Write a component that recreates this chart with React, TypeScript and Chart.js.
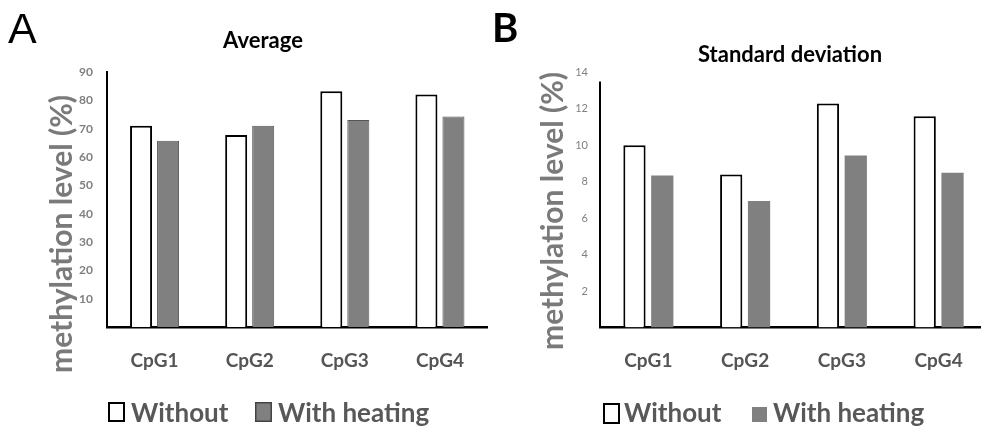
import React, { useEffect, useRef } from "react";
import { Chart, registerables } from "chart.js";

Chart.register(...registerables);

// ---- data ----
const categories = ["CpG1", "CpG2", "CpG3", "CpG4"];
const seriesNames = ["Without", "With heating"];
const avgWithout = [71.0, 67.8, 83.2, 82.1];
const avgWithHeating = [65.7, 71.0, 73.1, 74.3];
const sdWithout = [10.0, 8.4, 12.3, 11.6];
const sdWithHeating = [8.35, 6.95, 9.45, 8.5];
const avgAxis = { max: 90, step: 10 };
const sdAxis = { max: 14, step: 2 };

const FONT = "Lato, 'Open Sans', 'DejaVu Sans', sans-serif";

const decorPlugin = {
  id: "decor",
  afterDraw(chart: any, _args: any, o: any) {
    const { ctx, chartArea } = chart;
    ctx.save();
    // optional custom y axis line
    if (o.yLineFrom != null) {
      const ys = chart.scales.y;
      const yTop = ys.getPixelForValue(o.yLineFrom);
      ctx.strokeStyle = "#000";
      ctx.lineWidth = o.yLineWidth;
      ctx.beginPath();
      ctx.moveTo(chartArea.left, yTop);
      ctx.lineTo(chartArea.left, chartArea.bottom);
      ctx.stroke();
    }
    // panel letter
    ctx.fillStyle = "#000";
    ctx.textAlign = "left";
    ctx.textBaseline = "alphabetic";
    ctx.font = o.letterFont;
    ctx.fillText(o.letter, o.letterX, o.letterY);
    // title
    ctx.font = `bold 22px ${FONT}`;
    ctx.textAlign = "center";
    ctx.fillText(o.title, o.titleX, o.titleY);
    // y title
    ctx.save();
    ctx.translate(o.yTitleX, o.yTitleY);
    ctx.rotate(-Math.PI / 2);
    ctx.fillStyle = "#7a7a7a";
    ctx.font = `bold 30px ${FONT}`;
    ctx.textAlign = "center";
    ctx.textBaseline = "middle";
    ctx.fillText(o.yTitle, 0, 0);
    ctx.restore();
    // legend
    ctx.font = `bold 26px ${FONT}`;
    ctx.textAlign = "left";
    ctx.textBaseline = "alphabetic";
    o.legend.forEach((it: any, i: number) => {
      const ds = chart.data.datasets[i];
      ctx.fillStyle = ds.backgroundColor;
      ctx.fillRect(it.bx, it.by, it.bw, it.bh);
      if (it.bl > 0) {
        ctx.strokeStyle = it.bc;
        ctx.lineWidth = it.bl;
        ctx.strokeRect(it.bx + it.bl / 2, it.by + it.bl / 2, it.bw - it.bl, it.bh - it.bl);
      }
      ctx.fillStyle = "#585858";
      ctx.fillText(ds.label, it.tx, it.ty);
    });
    ctx.restore();
  },
};

function Panel(props: any) {
  const ref = useRef<HTMLCanvasElement>(null);
  useEffect(() => {
    const p = props;
    const chart = new Chart(ref.current as HTMLCanvasElement, {
      type: "bar",
      data: {
        labels: categories,
        datasets: [
          {
            label: seriesNames[0],
            data: p.without,
            backgroundColor: "#ffffff",
            borderColor: "#000000",
            borderWidth: 2,
            categoryPercentage: p.catPct,
            barPercentage: p.barPct,
          },
          {
            label: seriesNames[1],
            data: p.withHeating,
            backgroundColor: "#808080",
            borderColor: p.heatBorder,
            borderWidth: p.heatBorderWidth,
            categoryPercentage: p.catPct,
            barPercentage: p.barPct,
          },
        ],
      },
      options: {
        animation: false,
        responsive: false,
        maintainAspectRatio: false,
        devicePixelRatio: 1,
        layout: { padding: { top: p.padTop, right: p.padRight, left: 0, bottom: 0 } },
        plugins: {
          legend: { display: false },
          title: { display: false },
          tooltip: { enabled: false },
          decor: p.decor,
        } as any,
        scales: {
          x: {
            grid: { display: false, drawTicks: false },
            border: { color: "#000", width: 2.5 },
            ticks: {
              color: "#555555",
              font: { family: FONT, size: 19, weight: "bold" },
              padding: 22,
            },
            afterFit: (s: any) => {
              s.height = p.xHeight;
            },
          },
          y: {
            min: 0,
            max: p.axis.max,
            grid: { display: false, drawTicks: false },
            border: { display: p.showYBorder, color: "#000", width: 2 },
            ticks: {
              stepSize: p.axis.step,
              color: "#808080",
              font: p.tickFont,
              padding: p.tickPad,
              callback: (v: any) => (v === 0 ? "" : String(v)),
            },
            afterFit: (s: any) => {
              s.width = p.yWidth;
            },
          },
        },
      },
      plugins: [decorPlugin],
    });
    return () => chart.destroy();
  }, []);
  return (
    <canvas
      ref={ref}
      width={props.w}
      height={430}
      style={{ position: "absolute", left: props.left, top: 0, width: props.w, height: 430 }}
    />
  );
}

export default function App() {
  return (
    <div
      style={{
        position: "absolute",
        left: 0,
        top: 0,
        width: 981,
        height: 430,
        overflow: "hidden",
        background: "#fff",
      }}
    >
      <Panel
        left={0}
        w={490}
        without={avgWithout}
        withHeating={avgWithHeating}
        axis={avgAxis}
        catPct={0.568}
        barPct={0.815}
        heatBorder="#555555"
        heatBorderWidth={1}
        padTop={72}
        padRight={2.5}
        xHeight={103}
        yWidth={107}
        showYBorder={true}
        tickFont={{ family: FONT, size: 12, weight: "bold" }}
        tickPad={14}
        decor={{
          letter: "A",
          letterFont: "43px 'Liberation Sans', Arial, sans-serif",
          letterX: 8,
          letterY: 43,
          title: "Average",
          titleX: 263,
          titleY: 48,
          yTitle: "methylation level (%)",
          yTitleX: 62,
          yTitleY: 234,
          legend: [
            { bx: 108, by: 402, bw: 17, bh: 20, bl: 2, bc: "#000", tx: 131, ty: 422 },
            { bx: 255, by: 402, bw: 17, bh: 20, bl: 1.5, bc: "#444", tx: 278, ty: 422 },
          ],
        }}
      />
      <Panel
        left={490}
        w={500}
        without={sdWithout}
        withHeating={sdWithHeating}
        axis={sdAxis}
        catPct={0.575}
        barPct={0.8}
        heatBorder="#808080"
        heatBorderWidth={0}
        padTop={72.5}
        padRight={3}
        xHeight={102.5}
        yWidth={110}
        showYBorder={false}
        tickFont={{ family: FONT, size: 11 }}
        tickPad={12}
        decor={{
          yLineFrom: 13.5,
          yLineWidth: 2,
          letter: "B",
          letterFont: `bold 40px ${FONT}`,
          letterX: 2,
          letterY: 42,
          title: "Standard deviation",
          titleX: 300,
          titleY: 62,
          yTitle: "methylation level (%)",
          yTitleX: 63,
          yTitleY: 211,
          legend: [
            { bx: 113, by: 403, bw: 17, bh: 21, bl: 2, bc: "#000", tx: 134, ty: 422 },
            { bx: 262, by: 407, bw: 15, bh: 15, bl: 0, bc: "#808080", tx: 283, ty: 422 },
          ],
        }}
      />
    </div>
  );
}
